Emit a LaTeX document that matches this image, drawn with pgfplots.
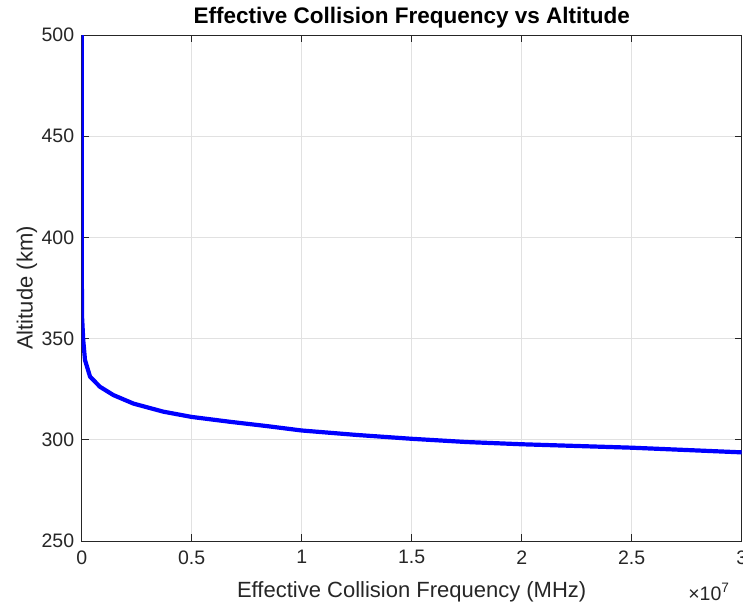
\documentclass[border=0pt]{standalone}
\usepackage{pgfplots}
\pgfplotsset{compat=1.18}
\usepackage{fontspec}
\setmainfont{Liberation Sans}
\definecolor{axgray}{RGB}{38,38,38}
\definecolor{gridgray}{RGB}{225,225,225}
\begin{document}
\begin{tikzpicture}
\begin{axis}[name=ax, scale only axis, width=660pt, height=506pt,
  xmin=0, xmax=30000000, ymin=250, ymax=500,
  xtick={0,5000000,10000000,15000000,20000000,25000000,30000000},
  ytick={250,300,350,400,450,500},
  scaled x ticks=base 10:-7,
  xtick scale label code/.code={},
  /pgf/number format/assume math mode=true,
  ticklabel style={font=\fontsize{19.5}{22}\selectfont, text=axgray},
  xticklabel style={yshift=-6pt},
  yticklabel style={xshift=-4pt},
  tick align=inside, tick pos=both, major tick length=7pt,
  tick style={axgray, line width=0.8pt},
  axis line style={axgray, line width=0.8pt},
  grid=major, grid style={gridgray, line width=0.8pt},
  title={Effective Collision Frequency vs Altitude},
  title style={font=\bfseries\fontsize{22.5}{25}\selectfont, at={(axis description cs:0.5,1)}, anchor=base, yshift=6pt},
  xlabel={Effective Collision Frequency (MHz)},
  ylabel={Altitude (km)},
  label style={font=\fontsize{22}{25}\selectfont, text=axgray},
  xlabel style={at={(axis description cs:0.5,0)}, anchor=base, yshift=-56.5pt},
  ylabel style={at={(axis description cs:0,0.5)}, anchor=base, yshift=49pt},
]
\addplot[blue, line width=4.2pt, line join=round] coordinates {
(30000000,293.8)
(25000000,296.1)
(20000000,297.8)
(17500000,298.9)
(15000000,300.5)
(12500000,302.4)
(10000000,304.6)
(8400000,306.8)
(6740000,308.9)
(5000000,311.3)
(3710000,313.9)
(2350000,317.9)
(1440000,322.1)
(830000,326.2)
(380000,331.2)
(150000,339.4)
(70000,349.3)
(20000,360)
(5000,380)
(0,400)
(0,500)
};
\end{axis}
\node[font=\fontsize{19.5}{22}\selectfont, text=axgray, anchor=base east, inner sep=0pt] at (ax.south east) [xshift=-12pt, yshift=-59pt] {×10\textsuperscript{7}};
\pgfresetboundingbox
\path[use as bounding box] (ax.south west) ++(-81.7pt,-65pt) rectangle ++(743pt,606pt);
\end{tikzpicture}
\end{document}
